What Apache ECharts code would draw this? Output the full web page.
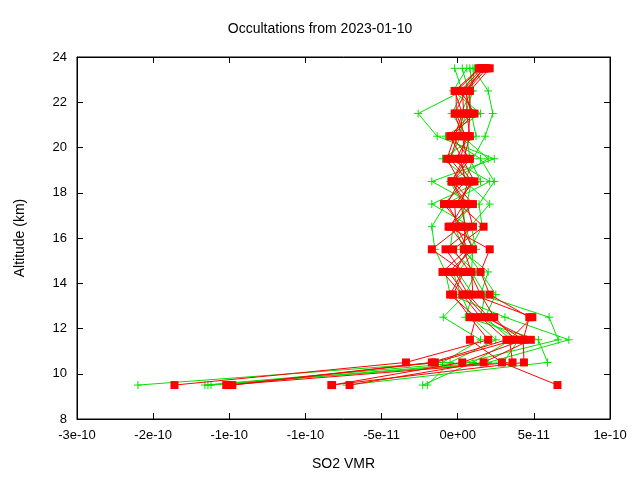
<!DOCTYPE html>
<html><head><meta charset="utf-8">
<script src="https://cdn.jsdelivr.net/npm/echarts@6/dist/echarts.min.js"></script>
<style>html,body{margin:0;background:#fff}#c{width:640px;height:480px}</style>
</head><body><div id="c"></div>
<script>
const altitudes = [9.5,10.5,11.5,12.5,13.5,14.5,15.5,16.5,17.5,18.5,19.5,20.5,21.5,22.5,23.5];
const scale = 1e-11;
// red profiles (units of 1e-11)
const red1 = [-18.6,-3.4,2.0,0.8,-0.3,0.4,-1.7,0.2,-0.7,0.1,-0.7,-0.2,0.3,-0.2,1.4];
const red2 = [-15.0,-1.7,3.2,1.5,0.3,-1.0,0.6,-0.5,0.4,-0.4,0.6,0.3,-0.2,0.55,1.7];
const red3 = [-14.8,-1.5,3.8,2.4,1.5,0.8,-0.3,1.7,0.1,0.9,-0.1,0.7,0.8,0.8,2.1];
const red4 = [-8.25,0.3,4.3,4.7,2.1,1.5,2.1,-0.6,1.0,-0.3,0.8,-0.4,1.1,0.2,1.6];
const red5 = [-7.1,1.7,4.8,1.8,0.5,-0.6,1.0,0.3,-0.9,0.5,0.2,0.5,-0.1,-0.1,1.5];
const red6 = [6.55,2.9,0.8,1.2,-0.5,0.3,-0.8,1.0,0.6,-0.4,0.4,0.8,0.6,0.6,1.9];
const red7 = [-15.2,3.6,3.4,4.9,1.0,0.9,0.4,0.5,0.2,0.7,-0.5,0.0,0.4,0.3,1.8];
const red8 = [-8.3,4.35,4.3,2.0,0.7,-0.2,0.7,-0.1,-0.2,1.1,0.3,-0.5,0.9,0.5,1.7];
// green profiles
const green1 = [-21,-1.0,1.5,-0.95,0.5,1.2,-0.5,-0.3,1.0,-1.7,2.4,-1.35,-2.6,0.3,-0.2];
const green2 = [-16.6,0.5,6.6,6.0,1.5,2.0,0.2,0.8,2.1,0.5,1.0,1.8,2.3,2.0,1.0];
const green3 = [-16.2,2.0,7.3,3.1,-0.5,-0.8,-1.5,-1.7,-0.8,2.1,-0.5,0.2,0.5,1.0,0.8];
const green4 = [-7.3,5.9,5.3,0.5,1.0,0.0,1.2,0.9,-1.7,1.5,0.8,0.6,-0.4,0.4,1.2];
const green5 = [-2.3,1.0,3.5,1.8,2.5,1.5,0.4,-0.2,0.6,0.9,-1.0,1.2,0.9,0.7,0.3];
const green6 = [-2.0,-0.5,2.5,0.9,0.2,-0.3,0.8,1.6,1.4,2.4,1.5,-0.8,1.5,-0.3,0.6];
const green7 = [-16.4,3.0,4.0,1.5,1.8,0.9,1.0,0.5,0.3,-0.5,2.0,0.3,0.2,0.9,1.1];
const xTickLabels = ["-3e-10","-2e-10","-1e-10","-1e-10","-5e-11","0e+00","5e-11","1e-10"];

const reds=[red1,red2,red3,red4,red5,red6,red7,red8];
const greens=[green1,green2,green3,green4,green5,green6,green7];
const plus='path://M5,0L5,10M0,5L10,5';
function mk(arr,color,isRed){
  return {type:'line',data:arr.map((v,i)=>[v*scale,altitudes[i]]),
    lineStyle:{color:color,width:1},
    itemStyle:isRed?{color:color}:{color:'none',borderColor:color,borderWidth:1},
    symbol:isRed?'rect':plus,symbolSize:8,showSymbol:true,animation:false,z:isRed?3:2};
}
const series=[...greens.map(g=>mk(g,'#00e000',false)),...reds.map(r=>mk(r,'#ff0000',true))];
const ax={color:'#000'};
const chart=echarts.init(document.getElementById('c'));
chart.setOption({
  animation:false,
  title:{text:'Occultations from 2023-01-10',left:'center',top:17,textStyle:{fontFamily:'Liberation Sans',fontSize:14,fontWeight:'normal',color:'#000'}},
  grid:{left:77,right:30,top:57,bottom:61,show:true,borderColor:'#000',borderWidth:1},
  xAxis:[{type:'value',min:-2.5e-10,max:1e-10,interval:5e-11,
    name:'SO2 VMR',nameLocation:'middle',nameGap:38,nameTextStyle:{fontFamily:'Liberation Sans',fontSize:14,color:'#000'},
    axisLine:{onZero:false,lineStyle:ax},axisTick:{inside:true,length:6,lineStyle:ax},splitLine:{show:false},
    axisLabel:{fontFamily:'Liberation Sans',fontSize:13,color:'#000',margin:10,formatter:v=>xTickLabels[Math.round((v+2.5e-10)/5e-11)]}},
   {type:'value',position:'top',min:-2.5e-10,max:1e-10,interval:5e-11,axisLine:{onZero:false,lineStyle:ax},axisTick:{inside:true,length:6,lineStyle:ax},axisLabel:{show:false},splitLine:{show:false}}],
  yAxis:[{type:'value',min:8,max:24,interval:2,
    name:'Altitude (km)',nameLocation:'middle',nameGap:50,nameTextStyle:{fontFamily:'Liberation Sans',fontSize:14,color:'#000'},
    axisLine:{onZero:false,lineStyle:ax},axisTick:{inside:true,length:6,lineStyle:ax},splitLine:{show:false},
    axisLabel:{fontFamily:'Liberation Sans',fontSize:13,color:'#000',margin:10}},
   {type:'value',position:'right',min:8,max:24,interval:2,axisLine:{onZero:false,lineStyle:ax},axisTick:{inside:true,length:6,lineStyle:ax},axisLabel:{show:false},splitLine:{show:false}}],
  series:series
});
</script></body></html>
